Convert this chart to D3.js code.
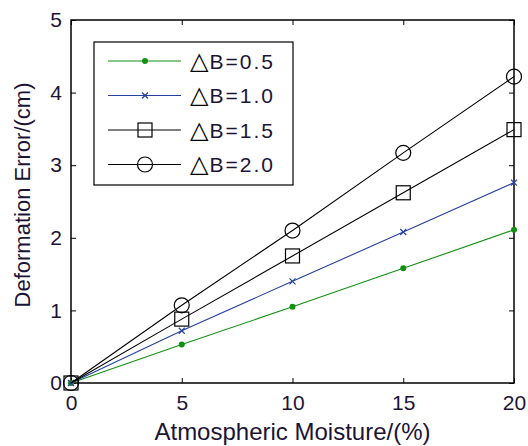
<!DOCTYPE html>
<html>
<head>
<meta charset="utf-8">
<script src="https://cdn.jsdelivr.net/npm/d3@7"></script>
<style>
  body { margin: 0; background: #fff; }
  text { font-family: "Liberation Sans", Arial, sans-serif; }
</style>
</head>
<body>
<div id="chart"></div>
<script>
// data
var moisture = [0, 5, 10, 15, 20];
var errB05 = [0, 0.53, 1.05, 1.58, 2.11];
var errB10 = [0, 0.72, 1.40, 2.08, 2.76];
var errB15 = [0, 0.88, 1.75, 2.62, 3.49];
var errB20 = [0, 1.07, 2.10, 3.17, 4.22];
var seriesNames = ["B=0.5", "B=1.0", "B=1.5", "B=2.0"];
var xTicks = [0, 5, 10, 15, 20];
var yTicks = [0, 1, 2, 3, 4, 5];

var W = 528, H = 446;
var margin = { top: 20, right: 14, bottom: 63, left: 71 },
  width = W - margin.left - margin.right,
  height = H - margin.top - margin.bottom;

var textColor = "#1c1436";

var svg = d3.select("#chart")
  .append("svg")
  .attr("width", W)
  .attr("height", H);

var g = svg.append("g")
  .attr("transform", "translate(" + margin.left + "," + margin.top + ")");

var x = d3.scaleLinear().domain([0, 20]).range([0, width]);
var y = d3.scaleLinear().domain([0, 5]).range([height, 0]);

// axes (ticks pointing inward like matlab)
var xAxis = g.append("g")
  .attr("transform", "translate(0," + height + ")")
  .call(d3.axisBottom(x).tickValues(xTicks).tickFormat(d3.format("d"))
    .tickSizeInner(-5).tickSizeOuter(0).tickPadding(12));
var yAxis = g.append("g")
  .call(d3.axisLeft(y).tickValues(yTicks).tickFormat(d3.format("d"))
    .tickSizeInner(-5).tickSizeOuter(0).tickPadding(9));
// top / right ticks
g.append("g")
  .call(d3.axisTop(x).tickValues(xTicks).tickSizeInner(-5).tickSizeOuter(0).tickFormat(""));
g.append("g")
  .attr("transform", "translate(" + width + ",0)")
  .call(d3.axisRight(y).tickValues(yTicks).tickSizeInner(-5).tickSizeOuter(0).tickFormat(""));

svg.selectAll(".domain").remove();
svg.selectAll(".tick line").attr("stroke", "#000").attr("stroke-width", 1);
svg.selectAll(".tick text")
  .attr("font-size", 21)
  .attr("fill", textColor)
  .style("font-family", "Liberation Sans, Arial, sans-serif");

// box
g.append("rect")
  .attr("x", 0).attr("y", 0)
  .attr("width", width).attr("height", height)
  .attr("fill", "none")
  .attr("stroke", "#000")
  .attr("stroke-width", 1.5);

var series = [
  { name: seriesNames[0], values: errB05, color: "#119011", marker: "dot" },
  { name: seriesNames[1], values: errB10, color: "#2440a0", marker: "x" },
  { name: seriesNames[2], values: errB15, color: "#000", marker: "square" },
  { name: seriesNames[3], values: errB20, color: "#000", marker: "circle" }
];

var line = d3.line()
  .x(function (d, i) { return x(moisture[i]); })
  .y(function (d) { return y(d); });

function drawMarker(sel, type, color) {
  if (type == "dot") {
    sel.append("circle").attr("r", 3).attr("fill", color).attr("stroke", "none");
  } else if (type == "x") {
    sel.append("path").attr("d", "M-3,-3L3,3M-3,3L3,-3")
      .attr("stroke", color).attr("stroke-width", 1.2).attr("fill", "none");
  } else if (type == "square") {
    sel.append("rect").attr("x", -7).attr("y", -7).attr("width", 14).attr("height", 14)
      .attr("fill", "none").attr("stroke", color).attr("stroke-width", 1.2);
  } else {
    sel.append("circle").attr("r", 7.5)
      .attr("fill", "none").attr("stroke", color).attr("stroke-width", 1.2);
  }
}

series.forEach(function (s) {
  g.append("path")
    .datum(s.values)
    .attr("fill", "none")
    .attr("stroke", s.color)
    .attr("stroke-width", 1.1)
    .attr("d", line);
  s.values.forEach(function (v, i) {
    var m = g.append("g")
      .attr("transform", "translate(" + x(moisture[i]) + "," + y(v) + ")");
    drawMarker(m, s.marker, s.color);
  });
});

// legend
var legend = svg.append("g").attr("transform", "translate(94,42)");
legend.append("rect")
  .attr("width", 199).attr("height", 143)
  .attr("fill", "#fff").attr("stroke", "#000").attr("stroke-width", 1.2);

series.forEach(function (s, i) {
  var row = legend.append("g").attr("transform", "translate(0," + (19 + i * 34.5) + ")");
  row.append("line")
    .attr("x1", 14).attr("x2", 87)
    .attr("stroke", s.color).attr("stroke-width", 1.1);
  drawMarker(row.append("g").attr("transform", "translate(51,0)"), s.marker, s.color);
  var t = row.append("text")
    .attr("x", 96).attr("y", 7.5)
    .attr("font-size", 21)
    .attr("fill", textColor);
  t.append("tspan").attr("fill", "#000").attr("font-size", 24)
    .style("font-family", "DejaVu Sans").text("\u25B3");
  t.append("tspan").attr("dx", 1).attr("letter-spacing", 2).text(s.name);
});

// axis labels
svg.append("text")
  .attr("x", margin.left + width / 2)
  .attr("y", 440)
  .attr("text-anchor", "middle")
  .attr("font-size", 24)
  .attr("fill", textColor)
  .text("Atmospheric Moisture/(%)");

svg.append("text")
  .attr("transform", "translate(30,195) rotate(-90)")
  .attr("text-anchor", "middle")
  .attr("font-size", 22)
  .attr("fill", textColor)
  .text("Deformation Error/(cm)");
</script>
</body>
</html>
